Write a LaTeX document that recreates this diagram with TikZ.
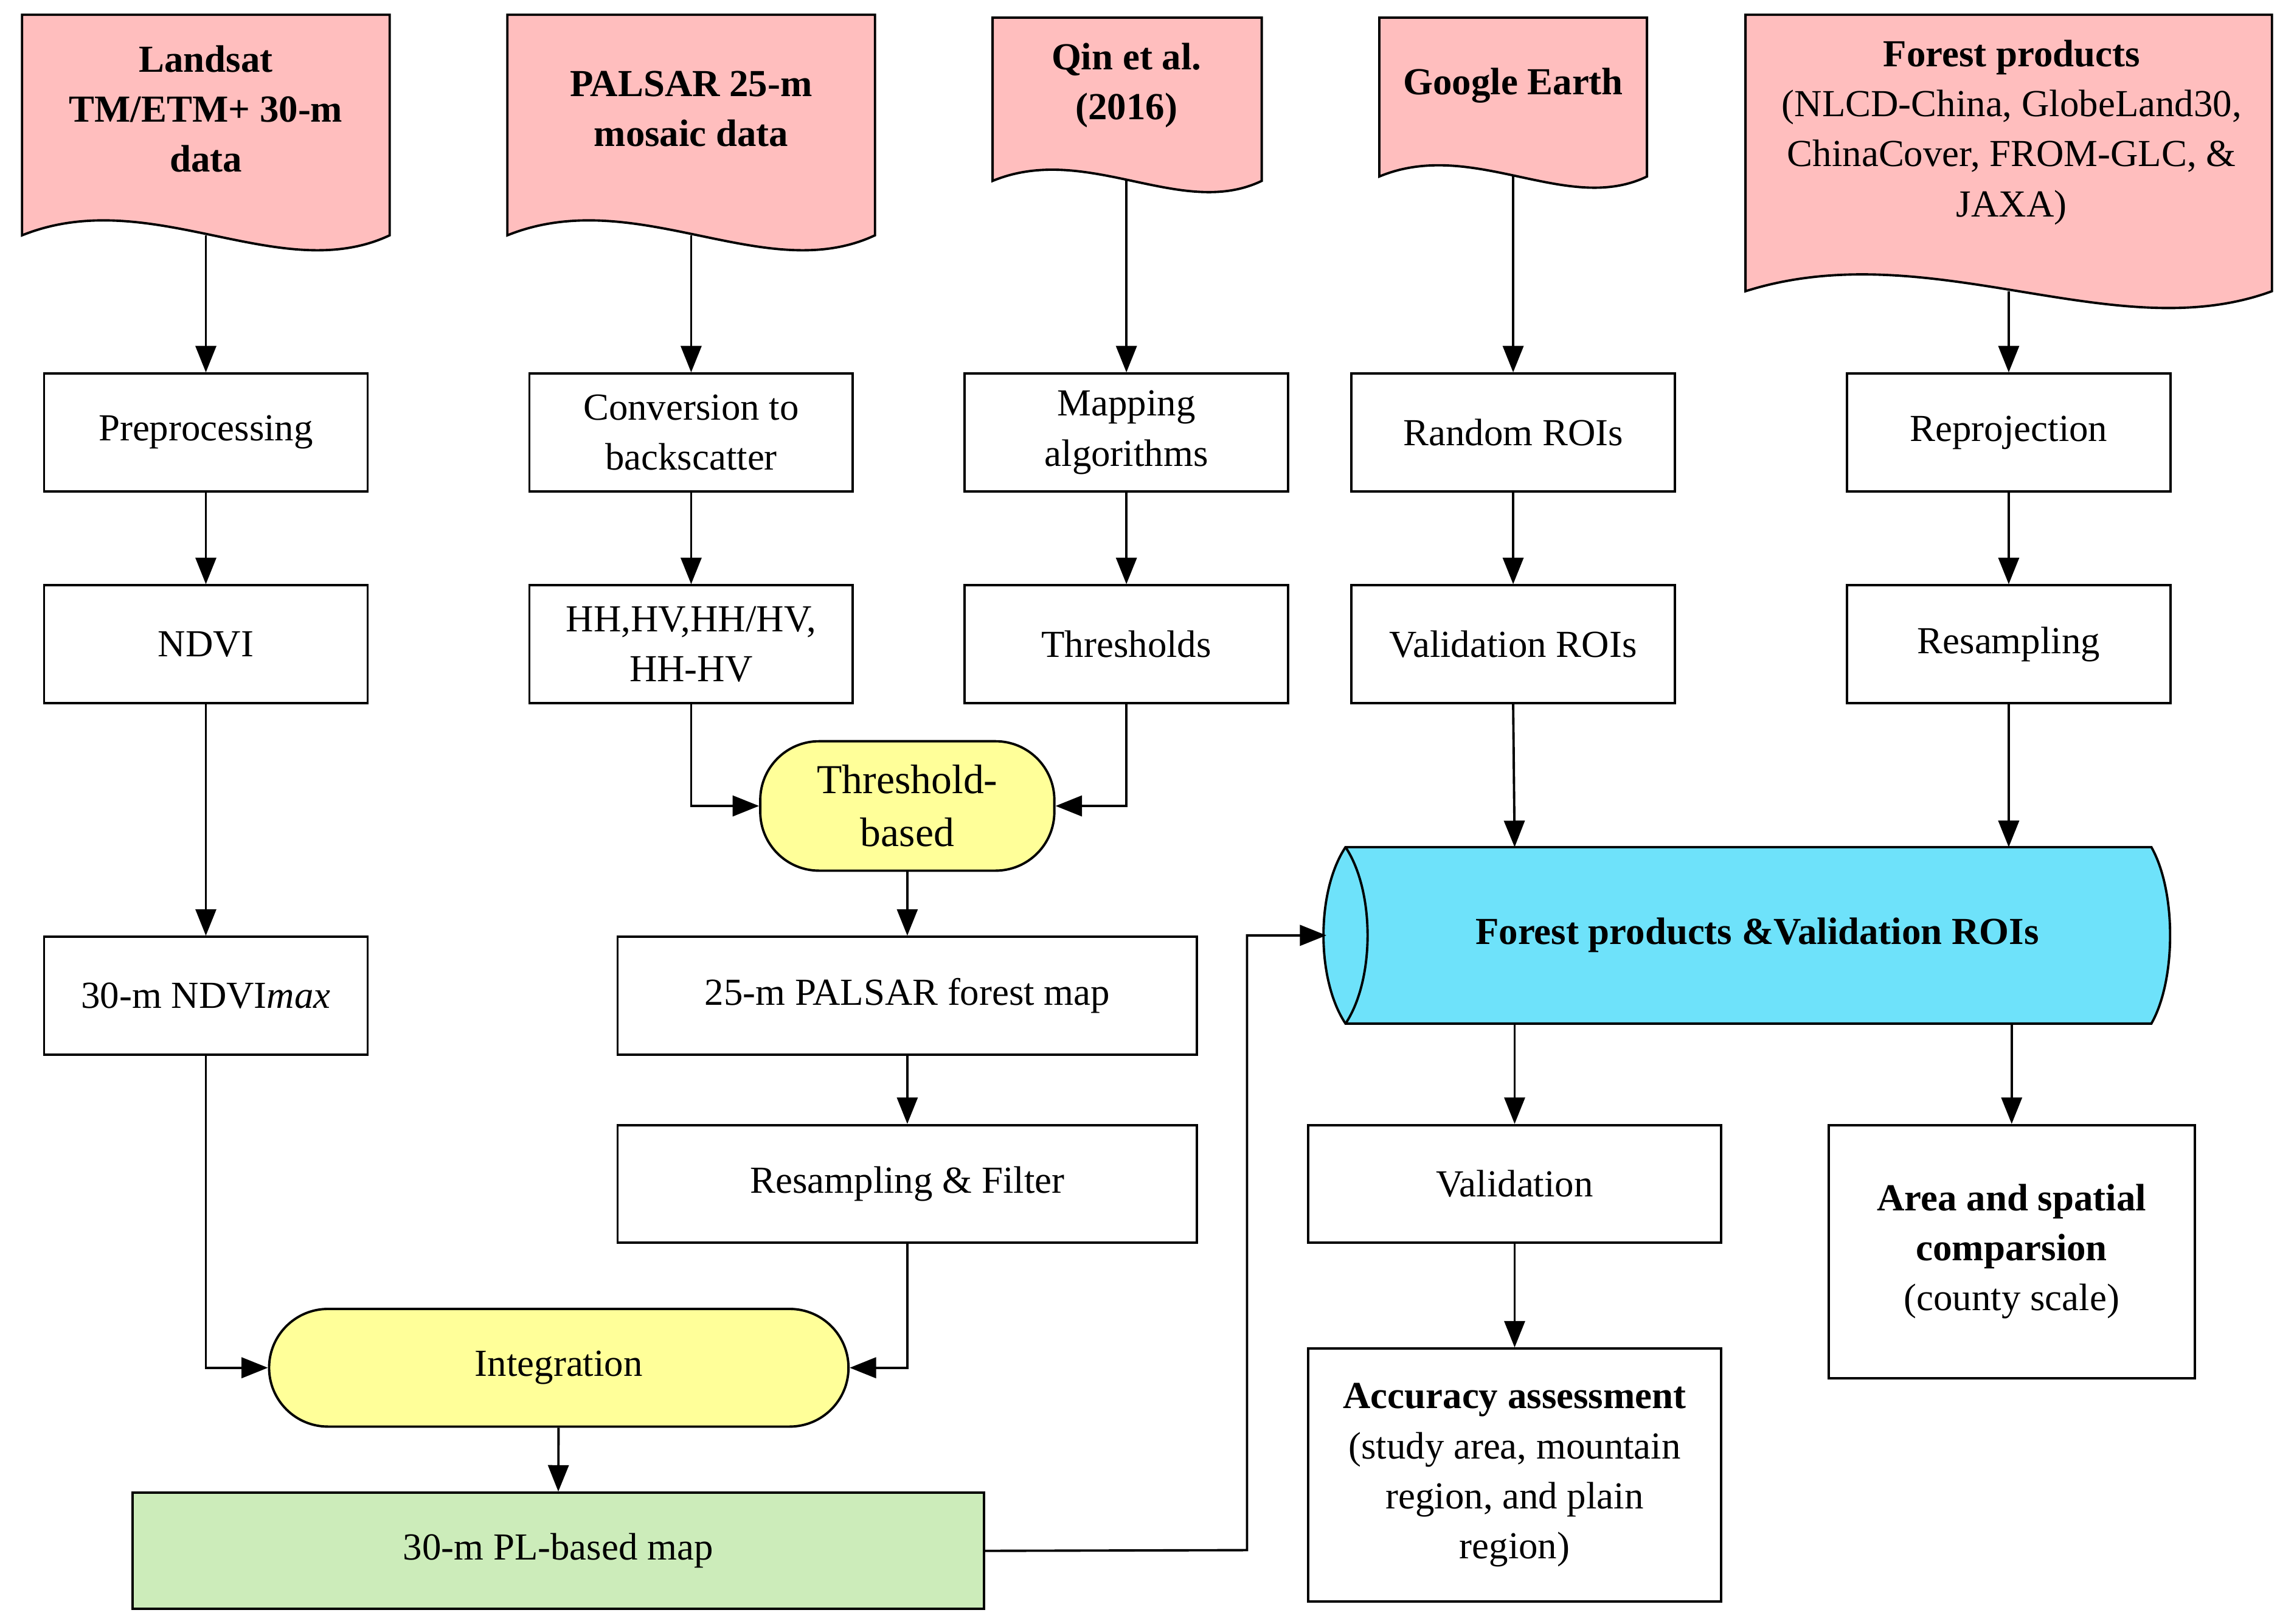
\documentclass[tikz,border=0pt]{standalone}
\usepackage{fontspec}
\setmainfont{Liberation Serif}
\usetikzlibrary{arrows.meta}
\begin{document}
\begin{tikzpicture}[x=0.5pt,y=-0.5pt,
 every node/.style={font=\fontsize{13}{17}\selectfont, align=center},
 box/.style={draw, thick, fill=white},
 arr/.style={thick,-{Triangle[length=9pt,width=7pt]}},
 doc/.style={draw, thick, fill=pink!90!red!60}]
\useasboundingbox (0,0) rectangle (1560,1104);
\definecolor{docpink}{RGB}{255,190,190}
\definecolor{yel}{RGB}{255,255,153}
\definecolor{grn}{RGB}{204,236,186}
\definecolor{cyn}{RGB}{110,226,250}
% document shapes
\newcommand{\docshape}[5]{% x1,x2,top,yb,amp
 \draw[thick,fill=docpink] (#1,#3) -- (#2,#3) -- (#2,#4) .. controls ({#1+0.7*(#2-#1)},{#4+2.2*#5}) and ({#1+0.35*(#2-#1)},{#4-2.2*#5}) .. (#1,#4) -- cycle;}
\docshape{15}{265}{10}{160}{16}
\docshape{345}{595}{10}{160}{16}
\docshape{675}{858}{12}{123}{12}
\docshape{938}{1120}{12}{120}{12}
\docshape{1187}{1545}{10}{198}{18}
\node[font=\fontsize{13}{17}\selectfont\bfseries] (d1) at (140,74) {Landsat\\TM/ETM+ 30-m\\data};
\node[font=\fontsize{13}{17}\selectfont\bfseries] (d2) at (470,74) {PALSAR 25-m\\mosaic data};
\node[font=\fontsize{13}{17}\selectfont\bfseries] (d3) at (766,58) {Qin et al.\\(2016)};
\node[font=\fontsize{13}{17}\selectfont\bfseries] (d4) at (1029,58) {Google Earth};
\node (d5) at (1368,90) {\textbf{Forest products}\\(NLCD-China, GlobeLand30,\\ChinaCover, FROM-GLC, \&\\JAXA)};
\coordinate (d1b) at (140,160); \coordinate (d2b) at (470,160);
\coordinate (d3b) at (766,123); \coordinate (d4b) at (1029,120); \coordinate (d5b) at (1366,198);
% boxes
\newcommand{\bx}[6]{\node[box, minimum width={(#3)*0.5pt}, minimum height={(#4)*0.5pt}, inner sep=0pt] (#1) at (#2) {#5};}
\bx{pre}{140,294}{220}{80}{Preprocessing}{}
\bx{ndvi}{140,438}{220}{80}{NDVI}{}
\bx{nmax}{140,677}{220}{80}{30-m NDVI\textit{max}}{}
\bx{conv}{470,294}{220}{80}{Conversion to\\backscatter}{}
\bx{hh}{470,438}{220}{80}{HH,HV,HH/HV,\\HH-HV}{}
\bx{map}{766,294}{220}{80}{Mapping\\algorithms}{}
\bx{thr}{766,438}{220}{80}{Thresholds}{}
\bx{rroi}{1029,294}{220}{80}{Random ROIs}{}
\bx{vroi}{1029,438}{220}{80}{Validation ROIs}{}
\bx{rep}{1366,294}{220}{80}{Reprojection}{}
\bx{res}{1366,438}{220}{80}{Resampling}{}
\bx{pal}{617,677}{394}{80}{25-m PALSAR forest map}{}
\bx{rf}{617,805}{394}{80}{Resampling \& Filter}{}
\bx{val}{1030,805}{281}{80}{Validation}{}
\bx{acc}{1030,1003}{281}{172}{\textbf{Accuracy assessment}\\(study area, mountain\\region, and plain\\region)}{}
\bx{area}{1368,851}{249}{172}{\textbf{Area and spatial}\\\textbf{comparsion}\\(county scale)}{}
\node[draw,thick,fill=grn,minimum width=289.5pt,minimum height=39.5pt,inner sep=0pt] (pl) at (379.5,1054.5) {30-m PL-based map};
\node[draw,thick,fill=yel,rounded corners=20pt,minimum width=100pt,minimum height=44pt,inner sep=0pt,font=\fontsize{14}{18}\selectfont] (tb) at (617,548) {Threshold-\\based};
\node[draw,thick,fill=yel,rounded corners=20pt,minimum width=197pt,minimum height=40pt,inner sep=0pt] (int) at (380,930) {Integration};
% cylinder
\draw[thick,fill=cyn] (915,576) -- (1463,576) .. controls (1480,606) and (1480,666) .. (1463,696) -- (915,696) .. controls (895,666) and (895,606) .. (915,576) -- cycle;
\draw[thick] (915,576) .. controls (935,606) and (935,666) .. (915,696);
\node[font=\fontsize{13}{17}\selectfont\bfseries] (cyl) at (1195,636) {Forest products \&Validation ROIs};
\coordinate (cylL) at (902,636);
% arrows
\draw[arr] (d1b) -- (pre);
\draw[arr] (pre) -- (ndvi);
\draw[arr] (ndvi) -- (nmax);
\draw[arr] (d2b) -- (conv);
\draw[arr] (conv) -- (hh);
\draw[arr] (d3b) -- (map);
\draw[arr] (map) -- (thr);
\draw[arr] (d4b) -- (rroi);
\draw[arr] (rroi) -- (vroi);
\draw[arr] (d5b) -- (rep);
\draw[arr] (rep) -- (res);
\draw[arr] (hh.south) |- (tb.west);
\draw[arr] (thr.south) |- (tb.east);
\draw[arr] (tb) -- (pal);
\draw[arr] (pal) -- (rf);
\draw[arr] (nmax.south) |- (int.west);
\draw[arr] (rf.south) |- (int.east);
\draw[arr] (int) -- (pl);
\draw[arr] (pl.east) -- (848,1054) |- (cylL);
\draw[arr] (vroi.south) -- (1030,576);
\draw[arr] (res.south) -- (1366,576);
\draw[arr] (1030,696) -- (val);
\draw[arr] (1368,696) -- (area);
\draw[arr] (val) -- (acc);
\end{tikzpicture}
\end{document}
